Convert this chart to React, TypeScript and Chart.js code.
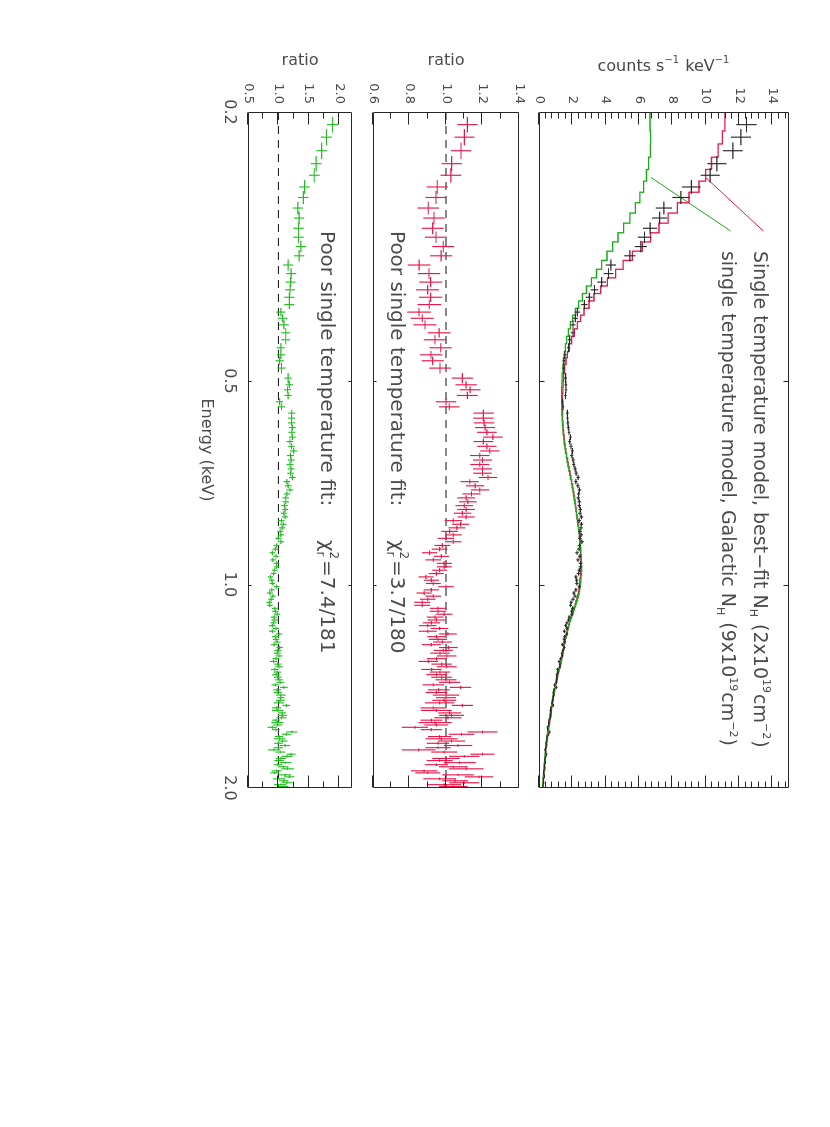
import React, { useEffect, useRef } from 'react';
import { Chart, registerables } from 'chart.js';

Chart.register(...registerables);

// ---------------- data ----------------
// bin centre energies (keV)
const energy = [
  0.2088, 0.2179, 0.2282, 0.2385, 0.2481, 0.2582, 0.2676, 0.2774, 0.2870, 0.2972,
  0.3064, 0.3163, 0.3264, 0.3368, 0.3468, 0.3570, 0.3665, 0.3759, 0.3854, 0.3954,
  0.4038, 0.4129, 0.4243, 0.4345, 0.4465, 0.4573, 0.4667, 0.4785, 0.4951, 0.5065,
  0.5152, 0.5253, 0.5367, 0.5460, 0.5578, 0.5674, 0.5766, 0.5859, 0.5955, 0.6053,
  0.6145, 0.6246, 0.6345, 0.6445, 0.6545, 0.6645, 0.6745, 0.6845, 0.6945, 0.7045,
  0.7145, 0.7245, 0.7345, 0.7445, 0.7545, 0.7645, 0.7745, 0.7845, 0.7945, 0.8045,
  0.8145, 0.8245, 0.8345, 0.8445, 0.8545, 0.8645, 0.8755, 0.8865, 0.8975, 0.9085,
  0.9195, 0.9305, 0.9415, 0.9525, 0.9635, 0.9745, 0.9855, 0.9965, 1.0075, 1.0185,
  1.0295, 1.0405, 1.0515, 1.0625, 1.0735, 1.0845, 1.0955, 1.1065, 1.1175, 1.1285,
  1.1395, 1.1505, 1.1615, 1.1725, 1.1835, 1.1945, 1.2055, 1.2165, 1.2275, 1.2395,
  1.2515, 1.2635, 1.2755, 1.2875, 1.2995, 1.3115, 1.3235, 1.3355, 1.3475, 1.3595,
  1.3715, 1.3835, 1.3955, 1.4075, 1.4195, 1.4315, 1.4445, 1.4575, 1.4705, 1.4835,
  1.4965, 1.5095, 1.5225, 1.5355, 1.5485, 1.5615, 1.5745, 1.5875, 1.6005, 1.6135,
  1.6265, 1.6395, 1.6525, 1.6655, 1.6785, 1.6915, 1.7045, 1.7175, 1.7305, 1.7435,
  1.7565, 1.7695, 1.7825, 1.7955, 1.8085, 1.8215, 1.8345, 1.8475, 1.8605, 1.8735,
  1.8865, 1.8995, 1.9125, 1.9255, 1.9385, 1.9515, 1.9645, 1.9775, 1.9905,
];

// observed spectrum (counts s^-1 keV^-1)
const counts = [
  12.45, 12.11, 11.63, 10.67, 10.27, 9.14, 8.51, 7.49, 7.24, 6.67,
  6.33, 6.11, 5.45, 4.31, 4.17, 3.76, 3.33, 3.02, 2.72, 2.30,
  2.18, 2.04, 2.04, 1.84, 1.77, 1.56, 1.50, 1.49, 1.60, 1.61,
  1.62, 1.59, 1.41, 1.44, 1.70, 1.71, 1.73, 1.76, 1.80, 1.89,
  1.84, 1.92, 2.00, 1.97, 2.05, 2.09, 2.17, 2.23, 2.35, 2.21,
  2.33, 2.43, 2.38, 2.36, 2.42, 2.42, 2.48, 2.46, 2.54, 2.41,
  2.54, 2.52, 2.46, 2.53, 2.45, 2.57, 2.43, 2.40, 2.28, 2.45,
  2.34, 2.49, 2.49, 2.42, 2.37, 2.21, 2.26, 2.27, 2.42, 2.21,
  2.09, 2.16, 2.04, 1.93, 1.89, 2.02, 1.96, 1.97, 1.81, 1.77,
  1.67, 1.60, 1.67, 1.52, 1.67, 1.53, 1.51, 1.52, 1.40, 1.51,
  1.44, 1.38, 1.40, 1.29, 1.20, 1.26, 1.25, 1.11, 1.13, 1.07,
  1.07, 1.06, 1.05, 0.93, 1.05, 0.90, 0.86, 0.88, 0.85, 0.82,
  0.78, 0.86, 0.71, 0.70, 0.72, 0.71, 0.68, 0.60, 0.59, 0.58,
  0.50, 0.52, 0.65, 0.58, 0.49, 0.48, 0.48, 0.43, 0.46, 0.40,
  0.36, 0.40, 0.46, 0.42, 0.37, 0.35, 0.38, 0.32, 0.34, 0.36,
  0.29, 0.27, 0.31, 0.32, 0.26, 0.27, 0.28, 0.24, 0.24,
];
const countsErr = [
  0.61, 0.61, 0.60, 0.58, 0.57, 0.56, 0.52, 0.49, 0.46, 0.43,
  0.40, 0.37, 0.34, 0.31, 0.29, 0.26, 0.23, 0.21, 0.19, 0.17,
  0.16, 0.145, 0.13, 0.12, 0.11, 0.10, 0.097, 0.092, 0.085, 0.085,
  0.082, 0.081, 0.079, 0.079, 0.079, 0.078, 0.079, 0.080, 0.079, 0.081,
  0.083, 0.083, 0.085, 0.088, 0.089, 0.092, 0.094, 0.095, 0.097, 0.098,
  0.100, 0.100, 0.100, 0.104, 0.106, 0.106, 0.107, 0.108, 0.108, 0.109,
  0.110, 0.109, 0.110, 0.111, 0.110, 0.111, 0.107, 0.107, 0.105, 0.105,
  0.106, 0.103, 0.103, 0.103, 0.103, 0.102, 0.101, 0.100, 0.102, 0.101,
  0.100, 0.100, 0.098, 0.098, 0.095, 0.095, 0.092, 0.092, 0.089, 0.088,
  0.086, 0.085, 0.083, 0.083, 0.081, 0.081, 0.079, 0.079, 0.078, 0.077,
  0.076, 0.076, 0.074, 0.073, 0.072, 0.071, 0.069, 0.068, 0.066, 0.064,
  0.063, 0.061, 0.060, 0.059, 0.057, 0.056, 0.055, 0.063, 0.047, 0.055,
  0.065, 0.046, 0.053, 0.063, 0.044, 0.047, 0.050, 0.039, 0.057, 0.040,
  0.042, 0.033, 0.045, 0.037, 0.033, 0.043, 0.035, 0.028, 0.034, 0.029,
  0.038, 0.028, 0.026, 0.032, 0.028, 0.025, 0.031, 0.022, 0.026, 0.030,
  0.022, 0.020, 0.025, 0.022, 0.024, 0.018, 0.021, 0.023, 0.018,
];

// single temperature model, best-fit NH (red)
const modelBest = [
  11.15, 11.0, 10.75, 10.35, 10.0, 9.6, 9.0, 8.3, 7.75, 7.2,
  6.7, 6.2, 5.6, 5.05, 4.6, 4.1, 3.7, 3.3, 3.0, 2.7,
  2.5, 2.3, 2.12, 1.96, 1.82, 1.70, 1.62, 1.54, 1.47, 1.45,
  1.43, 1.42, 1.41, 1.41, 1.41, 1.42, 1.43, 1.45, 1.47, 1.50,
  1.53, 1.57, 1.61, 1.66, 1.71, 1.76, 1.81, 1.86, 1.91, 1.96,
  2.01, 2.05, 2.09, 2.13, 2.16, 2.20, 2.23, 2.26, 2.29, 2.32,
  2.35, 2.38, 2.41, 2.43, 2.45, 2.47, 2.48, 2.49, 2.50, 2.51,
  2.52, 2.52, 2.52, 2.51, 2.50, 2.48, 2.46, 2.44, 2.42, 2.40,
  2.37, 2.32, 2.27, 2.22, 2.17, 2.11, 2.05, 1.99, 1.93, 1.87,
  1.82, 1.78, 1.73, 1.69, 1.65, 1.62, 1.58, 1.55, 1.52, 1.49,
  1.46, 1.43, 1.39, 1.36, 1.33, 1.29, 1.25, 1.21, 1.17, 1.13,
  1.10, 1.06, 1.03, 1.00, 0.97, 0.94, 0.91, 0.88, 0.85, 0.83,
  0.81, 0.79, 0.76, 0.74, 0.71, 0.69, 0.67, 0.65, 0.63, 0.61,
  0.59, 0.57, 0.55, 0.53, 0.51, 0.49, 0.47, 0.45, 0.43, 0.42,
  0.41, 0.40, 0.39, 0.38, 0.37, 0.36, 0.35, 0.34, 0.33, 0.32,
  0.31, 0.30, 0.29, 0.28, 0.27, 0.26, 0.25, 0.24, 0.23,
];

// single temperature model, Galactic NH (green)
const modelGal = [
  6.66, 6.70, 6.68, 6.58, 6.45, 6.28, 6.05, 5.78, 5.45, 5.08,
  4.74, 4.42, 4.08, 3.76, 3.45, 3.14, 2.85, 2.60, 2.38, 2.18,
  2.02, 1.88, 1.76, 1.66, 1.58, 1.52, 1.47, 1.43, 1.39, 1.37,
  1.36, 1.36, 1.36, 1.37, 1.38, 1.39, 1.41, 1.43, 1.45, 1.48,
  1.51, 1.55, 1.59, 1.64, 1.69, 1.74, 1.79, 1.84, 1.89, 1.94,
  1.99, 2.03, 2.07, 2.11, 2.14, 2.18, 2.21, 2.24, 2.27, 2.30,
  2.33, 2.36, 2.39, 2.42, 2.44, 2.46, 2.48, 2.50, 2.51, 2.53,
  2.54, 2.55, 2.55, 2.55, 2.54, 2.53, 2.51, 2.49, 2.47, 2.44,
  2.41, 2.36, 2.31, 2.25, 2.19, 2.13, 2.07, 2.01, 1.95, 1.89,
  1.84, 1.79, 1.74, 1.70, 1.66, 1.62, 1.58, 1.55, 1.51, 1.48,
  1.45, 1.42, 1.38, 1.35, 1.32, 1.28, 1.24, 1.20, 1.16, 1.12,
  1.09, 1.05, 1.02, 0.99, 0.96, 0.93, 0.90, 0.87, 0.84, 0.81,
  0.79, 0.76, 0.74, 0.71, 0.69, 0.66, 0.64, 0.62, 0.60, 0.58,
  0.56, 0.54, 0.52, 0.50, 0.48, 0.46, 0.44, 0.42, 0.41, 0.40,
  0.39, 0.38, 0.37, 0.36, 0.35, 0.34, 0.33, 0.32, 0.31, 0.30,
  0.29, 0.28, 0.27, 0.26, 0.25, 0.245, 0.235, 0.225, 0.215,
];

// data / model ratio, best-fit NH (red)
const ratioBest = [
  1.117, 1.101, 1.082, 1.031, 1.027, 0.952, 0.945, 0.903, 0.934, 0.927,
  0.945, 0.985, 0.973, 0.853, 0.907, 0.916, 0.899, 0.916, 0.908, 0.852,
  0.870, 0.885, 0.962, 0.940, 0.971, 0.918, 0.927, 0.967, 1.090, 1.110,
  1.132, 1.117, 1.000, 1.018, 1.205, 1.205, 1.209, 1.214, 1.224, 1.257,
  1.205, 1.224, 1.24, 1.185, 1.20, 1.185, 1.20, 1.20, 1.23, 1.13,
  1.16, 1.185, 1.14, 1.11, 1.12, 1.10, 1.11, 1.09, 1.11, 1.04,
  1.08, 1.06, 1.02, 1.04, 1.00, 1.04, 0.98, 0.965, 0.91, 0.975,
  0.93, 0.99, 0.99, 0.965, 0.947, 0.89, 0.92, 0.93, 1.00, 0.92,
  0.88, 0.93, 0.90, 0.87, 0.87, 0.956, 0.956, 0.99, 0.94, 0.947,
  0.92, 0.90, 0.965, 0.90, 1.01, 0.947, 0.956, 0.98, 0.92, 1.013,
  0.985, 0.967, 1.004, 0.949, 0.903, 0.976, 1.004, 0.921, 0.967, 0.949,
  0.976, 1.00, 1.02, 0.93, 1.08, 0.96, 0.947, 1.00, 1.00, 0.99,
  0.965, 1.09, 0.93, 0.947, 1.02, 1.03, 1.01, 0.92, 0.94, 0.947,
  0.83, 0.92, 1.20, 1.085, 0.965, 0.975, 1.03, 0.956, 1.066, 0.956,
  0.85, 0.99, 1.20, 1.10, 1.00, 0.965, 1.075, 0.947, 1.04, 1.11,
  0.88, 0.90, 1.066, 1.18, 0.965, 1.05, 1.10, 0.99, 1.04,
];
const ratioBestErr = [
  0.055, 0.055, 0.056, 0.056, 0.057, 0.058, 0.058, 0.059, 0.059, 0.060,
  0.060, 0.060, 0.061, 0.062, 0.062, 0.063, 0.063, 0.064, 0.064, 0.064,
  0.063, 0.063, 0.062, 0.062, 0.061, 0.061, 0.060, 0.060, 0.058, 0.058,
  0.057, 0.057, 0.056, 0.056, 0.056, 0.055, 0.055, 0.055, 0.054, 0.054,
  0.054, 0.053, 0.053, 0.053, 0.052, 0.052, 0.052, 0.051, 0.051, 0.050,
  0.050, 0.050, 0.049, 0.049, 0.049, 0.048, 0.048, 0.048, 0.047, 0.047,
  0.047, 0.046, 0.046, 0.046, 0.045, 0.045, 0.043, 0.043, 0.042, 0.042,
  0.042, 0.041, 0.041, 0.041, 0.041, 0.041, 0.041, 0.041, 0.042, 0.042,
  0.042, 0.043, 0.043, 0.044, 0.044, 0.045, 0.045, 0.046, 0.046, 0.047,
  0.047, 0.048, 0.048, 0.049, 0.049, 0.050, 0.050, 0.051, 0.051, 0.052,
  0.052, 0.053, 0.053, 0.054, 0.054, 0.055, 0.055, 0.056, 0.056, 0.057,
  0.057, 0.058, 0.058, 0.059, 0.059, 0.060, 0.060, 0.072, 0.055, 0.066,
  0.080, 0.058, 0.070, 0.085, 0.062, 0.068, 0.075, 0.060, 0.090, 0.066,
  0.072, 0.058, 0.082, 0.070, 0.064, 0.088, 0.074, 0.062, 0.078, 0.069,
  0.092, 0.071, 0.066, 0.084, 0.075, 0.070, 0.088, 0.064, 0.079, 0.095,
  0.072, 0.068, 0.086, 0.077, 0.090, 0.070, 0.082, 0.094, 0.078,
];

// data / model ratio, Galactic NH (green)
const ratioGal = [
  1.89, 1.79, 1.71, 1.62, 1.59, 1.43, 1.41, 1.32, 1.34, 1.33,
  1.33, 1.37, 1.34, 1.16, 1.21, 1.20, 1.19, 1.18, 1.18, 1.04,
  1.07, 1.09, 1.12, 1.12, 1.04, 1.04, 1.02, 1.05, 1.16, 1.18,
  1.15, 1.16, 1.02, 1.05, 1.22, 1.215, 1.215, 1.23, 1.22, 1.23,
  1.19, 1.215, 1.25, 1.20, 1.21, 1.19, 1.21, 1.20, 1.23, 1.14,
  1.16, 1.19, 1.14, 1.12, 1.12, 1.10, 1.11, 1.09, 1.11, 1.05,
  1.08, 1.06, 1.03, 1.04, 1.00, 1.04, 0.97, 0.95, 0.90, 0.96,
  0.91, 0.97, 0.97, 0.94, 0.92, 0.87, 0.89, 0.90, 0.97, 0.89,
  0.86, 0.91, 0.88, 0.85, 0.86, 0.94, 0.95, 0.98, 0.93, 0.94,
  0.92, 0.90, 0.96, 0.90, 1.01, 0.95, 0.96, 0.98, 0.93, 1.02,
  0.99, 0.98, 1.01, 0.96, 0.92, 0.99, 1.01, 0.94, 0.98, 0.96,
  0.99, 1.01, 1.03, 0.95, 1.09, 0.98, 0.99, 1.04, 1.04, 1.03,
  1.01, 1.13, 0.97, 0.99, 1.06, 1.07, 1.05, 0.96, 0.98, 0.99,
  0.90, 0.96, 1.22, 1.13, 1.01, 1.02, 1.07, 1.00, 1.11, 1.00,
  0.93, 1.03, 1.21, 1.14, 1.04, 1.01, 1.12, 0.99, 1.08, 1.15,
  0.97, 0.94, 1.11, 1.18, 1.01, 1.09, 1.14, 1.03, 1.08,
];
const ratioGalErr = [
  0.093, 0.090, 0.088, 0.088, 0.088, 0.087, 0.086, 0.086, 0.084, 0.086,
  0.085, 0.083, 0.084, 0.084, 0.083, 0.082, 0.083, 0.082, 0.082, 0.078,
  0.080, 0.080, 0.073, 0.074, 0.066, 0.068, 0.066, 0.066, 0.060, 0.060,
  0.058, 0.059, 0.058, 0.058, 0.057, 0.056, 0.056, 0.056, 0.055, 0.055,
  0.055, 0.054, 0.058, 0.058, 0.057, 0.057, 0.057, 0.056, 0.056, 0.055,
  0.055, 0.055, 0.054, 0.054, 0.054, 0.053, 0.053, 0.053, 0.052, 0.052,
  0.052, 0.051, 0.051, 0.051, 0.050, 0.050, 0.047, 0.047, 0.046, 0.046,
  0.046, 0.045, 0.045, 0.045, 0.045, 0.045, 0.045, 0.045, 0.046, 0.046,
  0.046, 0.047, 0.047, 0.048, 0.048, 0.050, 0.050, 0.051, 0.051, 0.052,
  0.052, 0.053, 0.053, 0.054, 0.054, 0.055, 0.055, 0.056, 0.056, 0.057,
  0.057, 0.058, 0.058, 0.059, 0.059, 0.061, 0.061, 0.062, 0.062, 0.063,
  0.063, 0.064, 0.064, 0.065, 0.065, 0.066, 0.066, 0.079, 0.061, 0.073,
  0.088, 0.064, 0.077, 0.094, 0.068, 0.075, 0.083, 0.066, 0.099, 0.073,
  0.079, 0.064, 0.090, 0.077, 0.070, 0.097, 0.081, 0.068, 0.086, 0.076,
  0.101, 0.078, 0.073, 0.092, 0.083, 0.077, 0.097, 0.070, 0.087, 0.105,
  0.079, 0.075, 0.095, 0.085, 0.099, 0.077, 0.090, 0.103, 0.086,
];

// axes
const E_MIN = 0.2;
const E_MAX = 2.0;
const energyTicks = [0.2, 0.5, 1.0, 2.0];
const countsTicks = [0, 2, 4, 6, 8, 10, 12, 14];
const ratioBestTicks = [0.6, 0.8, 1.0, 1.2, 1.4];
const ratioGalTicks = [0.5, 1.0, 1.5, 2.0];
const unity = 1;

// leader lines from the legend text to the two model curves [energy, counts]
const leaderBest = [[0.25, 10.0], [0.30, 13.46]];
const leaderGal = [[0.25, 6.72], [0.30, 11.5]];

// texts
const titleCounts = [{ t: 'counts s' }, { sup: '\u22121' }, { t: ' keV' }, { sup: '\u22121' }];
const titleRatio = [{ t: 'ratio' }];
const titleEnergy = [{ t: 'Energy (keV)' }];
const legendBest = [
  { t: 'Single temperature model, best\u2212fit N' }, { sub: 'H' }, { t: ' (2x10' }, { sup: '19' },
  { t: 'cm' }, { sup: '\u22122' }, { t: ')' },
];
const legendGal = [
  { t: 'single temperature model, Galactic N' }, { sub: 'H' }, { t: ' (9x10' }, { sup: '19' },
  { t: 'cm' }, { sup: '\u22122' }, { t: ')' },
];
const noteFit = [{ t: 'Poor single temperature fit:' }];
const chiBest = [{ t: '\u03c7' }, { sup: '2', sub: 'r' }, { t: '=3.7/180' }];
const chiGal = [{ t: '\u03c7' }, { sup: '2', sub: 'r' }, { t: '=7.4/181' }];

// ---------------- presentation ----------------
const FRAME_W = 1127;
const FRAME_H = 830;
const PLOT_L = 112;
const PLOT_R = 788;
const FONT = "'DejaVu Sans', 'Liberation Sans', sans-serif";
const TEXT = '#4a4a4a';
const AXIS = '#262626';
const RED = 'rgb(232, 24, 72)';
const GREEN = 'rgb(36, 190, 36)';
const GREEN_LINE = 'rgb(24, 172, 24)';
const BLACK = '#2a2a2a';

const N = Math.min(energy.length, counts.length, modelBest.length, modelGal.length, ratioBest.length, ratioGal.length);

// energy extent of each cross, through log-space neighbour gaps
const logE = energy.map((e) => Math.log10(e));
const binLo = [];
const binHi = [];
for (let i = 0; i < N; i++) {
  const gl = i > 0 ? logE[i] - logE[i - 1] : logE[1] - logE[0];
  const gr = i < N - 1 ? logE[i + 1] - logE[i] : gl;
  const half = 0.62 * (gl + gr) / 2;
  binLo.push(Math.pow(10, logE[i] - half));
  binHi.push(Math.pow(10, logE[i] + half));
}

function stepData(model) {
  const pts = [];
  for (let i = 0; i < N; i++) {
    const edge = i === 0 ? E_MIN : Math.pow(10, (logE[i - 1] + logE[i]) / 2);
    pts.push({ x: edge, y: model[i] });
  }
  pts.push({ x: E_MAX, y: model[N - 1] });
  return pts;
}

function fontStr(size) {
  return `${size}px ${FONT}`;
}

function segWidth(ctx, s, size) {
  if (s.t !== undefined) {
    ctx.font = fontStr(size);
    return ctx.measureText(s.t).width;
  }
  ctx.font = fontStr(Math.round(size * 0.6));
  const a = s.sup ? ctx.measureText(s.sup).width : 0;
  const b = s.sub ? ctx.measureText(s.sub).width : 0;
  return Math.max(a, b) + 1;
}

function drawRich(ctx, segs, x, y, size, align) {
  const widths = segs.map((s) => segWidth(ctx, s, size));
  const total = widths.reduce((a, b) => a + b, 0);
  let cx = align === 'center' ? x - total / 2 : x;
  ctx.textAlign = 'left';
  ctx.textBaseline = 'alphabetic';
  ctx.fillStyle = TEXT;
  segs.forEach((s, i) => {
    if (s.t !== undefined) {
      ctx.font = fontStr(size);
      ctx.fillText(s.t, cx, y);
    } else {
      ctx.font = fontStr(Math.round(size * 0.6));
      if (s.sup) ctx.fillText(s.sup, cx, y - size * 0.45);
      if (s.sub) ctx.fillText(s.sub, cx, y + size * 0.22);
    }
    cx += widths[i];
  });
}

function makePanelPlugin(cfg) {
  return {
    id: 'panel',
    afterDatasetsDraw(chart) {
      const { ctx, chartArea: a } = chart;
      const xs = chart.scales.x;
      const ys = chart.scales.y;

      // error-bar crosses
      ctx.save();
      ctx.beginPath();
      ctx.rect(a.left, a.top, a.right - a.left, a.bottom - a.top);
      ctx.clip();
      ctx.lineWidth = 1.15;
      ctx.strokeStyle = cfg.crossColor;
      ctx.beginPath();
      for (let i = 0; i < N; i++) {
        const v = cfg.values[i];
        const err = cfg.errors[i];
        const px = xs.getPixelForValue(energy[i]);
        const py = ys.getPixelForValue(v);
        ctx.moveTo(xs.getPixelForValue(binLo[i]), py);
        ctx.lineTo(xs.getPixelForValue(binHi[i]), py);
        ctx.moveTo(px, ys.getPixelForValue(v - err));
        ctx.lineTo(px, ys.getPixelForValue(v + err));
      }
      ctx.stroke();
      ctx.restore();

      // frame and inward ticks
      ctx.save();
      ctx.strokeStyle = AXIS;
      ctx.lineWidth = 1;
      const L = Math.round(a.left) + 0.5;
      const R = Math.round(a.right) - 0.5;
      const T = Math.round(a.top) + 0.5;
      const B = Math.round(a.bottom) - 0.5;
      ctx.beginPath();
      ctx.rect(L, T, R - L, B - T);
      const yTick = (val, len) => {
        const p = Math.round(ys.getPixelForValue(val)) + 0.5;
        ctx.moveTo(L, p); ctx.lineTo(L + len, p);
        ctx.moveTo(R, p); ctx.lineTo(R - len, p);
      };
      cfg.yTicks.forEach((v) => yTick(v, 12));
      const nMinor = Math.round((cfg.yMax - cfg.yMin) / cfg.minorStep);
      for (let k = 1; k < nMinor + 1; k++) {
        const v = cfg.yMin + k * cfg.minorStep;
        if (v > cfg.yMax + 1e-9) break;
        if (cfg.yTicks.some((m) => Math.abs(m - v) < 1e-6)) continue;
        yTick(v, 6);
      }
      energyTicks.forEach((e) => {
        if (e <= E_MIN || e >= E_MAX) return;
        const p = Math.round(xs.getPixelForValue(e)) + 0.5;
        ctx.moveTo(p, T); ctx.lineTo(p, T + cfg.xTickLen);
        ctx.moveTo(p, B); ctx.lineTo(p, B - cfg.xTickLen);
      });
      ctx.stroke();
      ctx.restore();

      // texts
      ctx.save();
      ctx.translate(a.left - cfg.titleOffset, (a.top + a.bottom) / 2);
      ctx.rotate(-Math.PI / 2);
      drawRich(ctx, cfg.title, 0, 0, 16, 'center');
      ctx.restore();

      ctx.save();
      cfg.notes.forEach((n) => {
        drawRich(ctx, n.segs, xs.getPixelForValue(n.e), ys.getPixelForValue(n.v), n.size, 'left');
      });
      if (cfg.xTitle) {
        drawRich(ctx, titleEnergy, (a.left + a.right) / 2, a.bottom + 46, 16, 'center');
      }
      ctx.restore();
    },
  };
}

function buildChart(canvas, p) {
  const xScale = {
    type: 'logarithmic',
    min: E_MIN,
    max: E_MAX,
    display: p.showX,
    grid: { display: false, drawTicks: false },
    border: { display: false },
    afterBuildTicks: (s) => { s.ticks = energyTicks.map((v) => ({ value: v })); },
    ticks: {
      padding: 9,
      color: TEXT,
      font: { family: FONT, size: 16 },
      maxRotation: 0,
      autoSkip: false,
      callback: (v) => Number(v).toFixed(1),
    },
  };
  if (p.showX) {
    xScale.afterFit = (s) => { s.height = FRAME_H - p.bottom; };
  }
  return new Chart(canvas, {
    type: 'line',
    data: { datasets: p.datasets },
    options: {
      responsive: false,
      animation: false,
      devicePixelRatio: 1,
      events: [],
      layout: {
        padding: { left: 0, right: FRAME_W - PLOT_R, top: p.top, bottom: p.showX ? 0 : FRAME_H - p.bottom },
      },
      plugins: { legend: { display: false }, tooltip: { enabled: false } },
      scales: {
        x: xScale,
        y: {
          type: 'linear',
          min: p.yMin,
          max: p.yMax,
          grid: { display: false, drawTicks: false },
          border: { display: false },
          afterBuildTicks: (s) => { s.ticks = p.yTicks.map((v) => ({ value: v })); },
          afterFit: (s) => { s.width = PLOT_L; },
          ticks: {
            padding: 8,
            color: TEXT,
            font: { family: FONT, size: 13 },
            autoSkip: false,
            callback: p.yFmt,
          },
        },
      },
    },
    plugins: [makePanelPlugin(p.panel)],
  });
}

const lineDs = (data, color, width, extra) => Object.assign({
  data,
  borderColor: color,
  borderWidth: width,
  pointRadius: 0,
  fill: false,
  tension: 0,
}, extra || {});

const unityDs = () => lineDs([{ x: E_MIN, y: unity }, { x: E_MAX, y: unity }], '#111', 1, { borderDash: [8, 6] });

function countsChart(canvas) {
  return buildChart(canvas, {
    top: 41, bottom: 291, yMin: 0, yMax: 15, yTicks: countsTicks, showX: false,
    yFmt: (v) => String(Math.round(Number(v))),
    datasets: [
      lineDs(stepData(modelGal), GREEN_LINE, 1.3, { stepped: 'before' }),
      lineDs(stepData(modelBest), RED, 1.3, { stepped: 'before' }),
      lineDs(leaderBest.map(([x, y]) => ({ x, y })), RED, 1),
      lineDs(leaderGal.map(([x, y]) => ({ x, y })), GREEN_LINE, 1),
    ],
    panel: {
      values: counts, errors: countsErr, crossColor: BLACK,
      yTicks: countsTicks, yMin: 0, yMax: 15, minorStep: 0.4, xTickLen: 5,
      title: titleCounts, titleOffset: 41.5, xTitle: false,
      notes: [
        { segs: legendBest, e: 0.321, v: 12.9, size: 19 },
        { segs: legendGal, e: 0.321, v: 10.96, size: 19 },
      ],
    },
  });
}

function bestChart(canvas) {
  return buildChart(canvas, {
    top: 311, bottom: 457, yMin: 0.6, yMax: 1.4, yTicks: ratioBestTicks, showX: false,
    yFmt: (v) => Number(v).toFixed(1),
    datasets: [unityDs()],
    panel: {
      values: ratioBest, errors: ratioBestErr, crossColor: RED,
      yTicks: ratioBestTicks, yMin: 0.6, yMax: 1.4, minorStep: 0.1, xTickLen: 3,
      title: titleRatio, titleOffset: 47, xTitle: false,
      notes: [
        { segs: noteFit, e: 0.30, v: 0.70, size: 20 },
        { segs: chiBest, e: 0.859, v: 0.70, size: 20 },
      ],
    },
  });
}

function galChart(canvas) {
  return buildChart(canvas, {
    top: 478, bottom: 582, yMin: 0.5, yMax: 2.21, yTicks: ratioGalTicks, showX: true,
    yFmt: (v) => Number(v).toFixed(1),
    datasets: [unityDs()],
    panel: {
      values: ratioGal, errors: ratioGalErr, crossColor: GREEN,
      yTicks: ratioGalTicks, yMin: 0.5, yMax: 2.21, minorStep: 0.25, xTickLen: 3,
      title: titleRatio, titleOffset: 47, xTitle: true,
      notes: [
        { segs: noteFit, e: 0.30, v: 1.706, size: 20 },
        { segs: chiGal, e: 0.859, v: 1.706, size: 20 },
      ],
    },
  });
}

export default function App() {
  const r1 = useRef(null);
  const r2 = useRef(null);
  const r3 = useRef(null);

  useEffect(() => {
    const charts = [countsChart(r1.current), bestChart(r2.current), galChart(r3.current)];
    return () => charts.forEach((c) => c.destroy());
  }, []);

  const canvasStyle = { position: 'absolute', left: 0, top: 0, width: FRAME_W + 'px', height: FRAME_H + 'px' };
  return (
    <div
      style={{
        position: 'absolute',
        left: 0,
        top: 0,
        width: FRAME_W + 'px',
        height: FRAME_H + 'px',
        background: '#fff',
        transformOrigin: '0 0',
        transform: `translate(${FRAME_H}px, 0px) rotate(90deg)`,
      }}
    >
      <canvas ref={r1} width={FRAME_W} height={FRAME_H} style={canvasStyle} />
      <canvas ref={r2} width={FRAME_W} height={FRAME_H} style={canvasStyle} />
      <canvas ref={r3} width={FRAME_W} height={FRAME_H} style={canvasStyle} />
    </div>
  );
}
